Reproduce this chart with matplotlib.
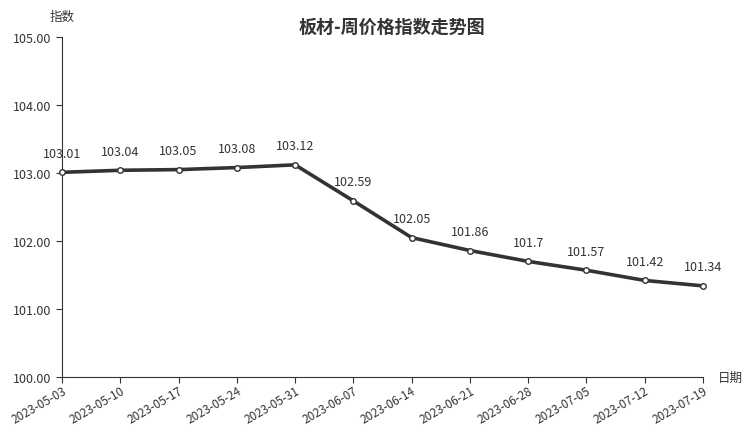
import matplotlib
matplotlib.use("Agg")
import matplotlib.pyplot as plt

plt.rcParams['font.family'] = ['Noto Sans CJK SC', 'DejaVu Sans']

dates = ["2023-05-03", "2023-05-10", "2023-05-17", "2023-05-24", "2023-05-31",
         "2023-06-07", "2023-06-14", "2023-06-21", "2023-06-28", "2023-07-05",
         "2023-07-12", "2023-07-19"]
values = [103.01, 103.04, 103.05, 103.08, 103.12, 102.59, 102.05, 101.86,
          101.7, 101.57, 101.42, 101.34]
yticks = [100, 101, 102, 103, 104, 105]

W, H = 752, 427
fig = plt.figure(figsize=(W / 100, H / 100), dpi=100)
ax = fig.add_axes([62 / W, 1 - 378 / H, (703 - 62) / W, (378 - 38) / H])

x = list(range(len(dates)))
ax.plot(x, values, color="#333333", lw=2.6, marker="o", ms=4,
        mfc="white", mec="#333333", mew=1, zorder=3, clip_on=False)
for xi, v in zip(x, values):
    ax.annotate(str(v), (xi, v), xytext=(0, 9), textcoords="offset points",
                ha="center", va="bottom", fontsize=9, color="#333333")

ax.set_xlim(0, len(dates) - 1)
ax.set_ylim(100, 105)
ax.set_yticks(yticks)
ax.set_yticklabels([f"{t:.2f}" for t in yticks], fontsize=9, color="#333333")
ax.set_xticks(x)
ax.set_xticklabels(dates, rotation=30, ha="right", rotation_mode="anchor",
                   fontsize=8.5, color="#333333")
for s in ["top", "right"]:
    ax.spines[s].set_visible(False)
for s in ["left", "bottom"]:
    ax.spines[s].set_color("#333333")
ax.tick_params(axis="both", colors="#333333", length=4, labelcolor="#333333")
ax.tick_params(axis="x", pad=1)

fig.text(392 / W, 1 - 27 / H, "板材-周价格指数走势图", ha="center", va="center",
         fontsize=13, fontweight="bold", color="#333333")
fig.text(62 / W, 1 - 17 / H, "指数", ha="center", va="center", fontsize=9, color="#333333")
fig.text(718 / W, 1 - 378 / H, "日期", ha="left", va="center", fontsize=9, color="#333333")

fig.savefig("out.png", dpi=100)
